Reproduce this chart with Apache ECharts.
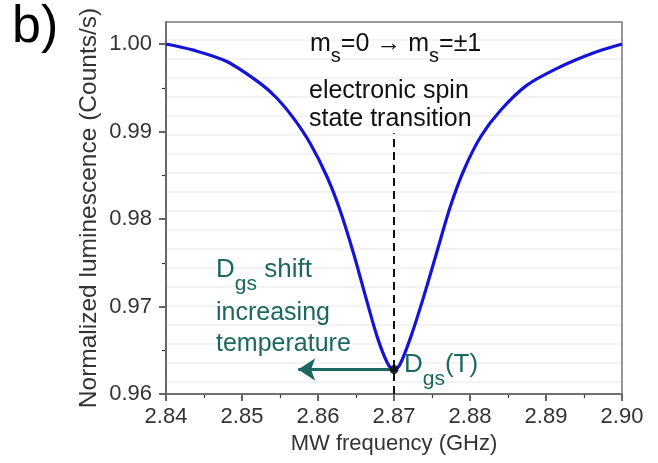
<!DOCTYPE html>
<html>
<head>
<meta charset="utf-8">
<script src="https://cdn.jsdelivr.net/npm/echarts@6/dist/echarts.min.js"></script>
<style>
  html, body { margin: 0; padding: 0; background: #fff; }
  #chart { width: 658px; height: 463px; }
</style>
</head>
<body>
<div id="chart"></div>
<script>
// 读图得到的谱线数据
const freq = [2.8400, 2.8436, 2.8480, 2.8524, 2.8546, 2.8568, 2.8590, 2.8612, 2.8629, 2.8647, 2.8664, 2.8678, 2.8691,
              2.8700, 2.8708, 2.8722, 2.8739, 2.8757, 2.8774, 2.8792, 2.8814, 2.8840, 2.8875, 2.8919, 2.8963, 2.9000];
const lum = [1.0000, 0.9993, 0.9980, 0.9955, 0.9938, 0.9915, 0.9886, 0.9848, 0.9810, 0.9760, 0.9707, 0.9665, 0.9636,
             0.9627, 0.9634, 0.9665, 0.9711, 0.9764, 0.9814, 0.9856, 0.9894, 0.9924, 0.9953, 0.9974, 0.9990, 1.0000];

// 共振点、虚线、箭头
const dgsPoint = [2.870, 0.9628];
const dashLine = [[2.870, 0.960], [2.870, 0.9898]];
const shiftArrow = [[2.870, 0.9628], [2.8574, 0.9628]];

const xTicks = [2.84, 2.90, 0.01];
const yTicks = [0.96, 1.00, 0.01];

const blue = '#1414d6';
const teal = '#1c6860';
const font = 'Liberation Sans, Arial, sans-serif';

const chart = echarts.init(document.getElementById('chart'));

// 带下标的文字
function subText(x, y, text, color, size, subSize, subLine) {
  return {
    type: 'text', x: x, y: y, z: 20,
    style: {
      text: text, verticalAlign: 'middle', fill: color,
      rich: {
        m: { fontSize: size, fontFamily: font, lineHeight: subLine, verticalAlign: 'top', fill: color },
        s: { fontSize: subSize, fontFamily: font, lineHeight: subSize + 1, verticalAlign: 'bottom', fill: color }
      }
    }
  };
}

function plainText(x, y, text, color) {
  return { type: 'text', x: x, y: y, z: 20, style: { text: text, font: '25px ' + font, fill: color, verticalAlign: 'middle' } };
}

const option = {
  animation: false,
  grid: [
    { left: 166, right: 36, top: 44, bottom: 69, z: 5 },
    { left: 166, right: 36, top: 22, bottom: 69, show: true, borderColor: '#777', borderWidth: 1.5, z: 1 },
    { left: 166, right: 36, top: 40, height: 342, z: 0 }
  ],
  xAxis: [
    {
      gridIndex: 0, type: 'value', min: xTicks[0], max: xTicks[1], interval: xTicks[2],
      name: 'MW frequency (GHz)', nameLocation: 'middle', nameGap: 37,
      nameTextStyle: { fontSize: 22, color: '#333', fontFamily: font },
      axisLine: { show: true, lineStyle: { color: '#333', width: 1.5 } },
      axisTick: { show: true, inside: false, length: 7, lineStyle: { color: '#333', width: 1.5 } },
      minorTick: { show: true, splitNumber: 2, length: 4, lineStyle: { color: '#333', width: 1.2 } },
      axisLabel: { fontSize: 22, color: '#333', fontFamily: font, margin: 12, formatter: v => v.toFixed(2) },
      splitLine: { show: false }
    },
    { gridIndex: 1, type: 'value', min: 0, max: 1, show: false },
    { gridIndex: 2, type: 'value', min: 0, max: 1, show: false }
  ],
  yAxis: [
    {
      gridIndex: 0, type: 'value', min: yTicks[0], max: yTicks[1], interval: yTicks[2],
      axisLine: { show: true, lineStyle: { color: '#333', width: 1.5 } },
      axisTick: { show: true, inside: false, length: 7, lineStyle: { color: '#333', width: 1.5 } },
      minorTick: { show: true, splitNumber: 2, length: 4, lineStyle: { color: '#333', width: 1.2 } },
      axisLabel: { fontSize: 22, color: '#333', fontFamily: font, margin: 14, formatter: v => v.toFixed(2) },
      splitLine: { show: false }
    },
    {
      gridIndex: 1, type: 'value', min: 0, max: 1,
      name: 'Normalized luminescence (Counts/s)', nameLocation: 'middle', nameGap: 64,
      nameTextStyle: { fontSize: 24.5, color: '#333', fontFamily: font },
      axisLine: { show: true, lineStyle: { color: '#333', width: 1.5 } },
      axisTick: { show: false }, axisLabel: { show: false }, splitLine: { show: false }
    },
    {
      gridIndex: 2, type: 'value', min: 0, max: 18, interval: 1,
      axisLine: { show: false }, axisTick: { show: false }, axisLabel: { show: false },
      splitLine: { show: true, lineStyle: { color: '#efefef', width: 1.5 } }
    }
  ],
  series: [
    {
      type: 'line', xAxisIndex: 0, yAxisIndex: 0,
      data: freq.map((f, i) => [f, lum[i]]),
      smooth: 0.3, showSymbol: false,
      lineStyle: { color: blue, width: 3.2 }, z: 4
    },
    {
      type: 'line', xAxisIndex: 0, yAxisIndex: 0,
      data: dashLine, showSymbol: false,
      lineStyle: { color: '#111', width: 2, type: [8, 5] }, z: 3
    },
    {
      type: 'lines', coordinateSystem: 'cartesian2d', xAxisIndex: 0, yAxisIndex: 0,
      data: [{ coords: shiftArrow }],
      symbol: ['none', 'arrow'], symbolSize: 17,
      lineStyle: { color: teal, width: 3, opacity: 1 }, z: 5
    },
    {
      type: 'scatter', xAxisIndex: 0, yAxisIndex: 0,
      data: [dgsPoint], symbolSize: 9,
      itemStyle: { color: '#000' }, z: 6
    }
  ],
  graphic: [
    { type: 'text', left: 12, top: 2, z: 20, style: { text: 'b)', font: '52px ' + font, fill: '#000' } },
    subText(310, 49, '{m|m}{s|s}{m|=0 → m}{s|s}{m|=±1}', '#111', 25, 20, 34),
    plainText(309, 91, 'electronic spin', '#111'),
    plainText(309, 119, 'state transition', '#111'),
    subText(216, 276, '{m|D}{s|gs}{m| shift}', teal, 26, 21, 38),
    plainText(216, 313, 'increasing', teal),
    plainText(216, 344, 'temperature', teal),
    subText(404, 371, '{m|D}{s|gs}{m|(T)}', teal, 26, 21, 38)
  ]
};

chart.setOption(option);
</script>
</body>
</html>
